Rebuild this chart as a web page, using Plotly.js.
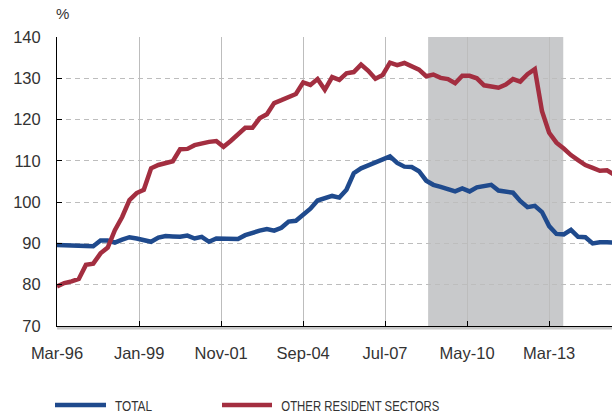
<!DOCTYPE html>
<html>
<head>
<meta charset="utf-8">
<script src="https://cdn.plot.ly/plotly-3.0.1.min.js"></script>
<style>html,body{margin:0;padding:0;background:#fff;}#chart{width:612px;height:416px;}</style>
</head>
<body>
<div id="chart"></div>
<script>
// Quarterly observations, Mar-1996 .. Jun-2015
const quarters = [
"1996-03","1996-06","1996-09","1996-12","1997-03","1997-06","1997-09","1997-12",
"1998-03","1998-06","1998-09","1998-12","1999-03","1999-06","1999-09","1999-12",
"2000-03","2000-06","2000-09","2000-12","2001-03","2001-06","2001-09","2001-12",
"2002-03","2002-06","2002-09","2002-12","2003-03","2003-06","2003-09","2003-12",
"2004-03","2004-06","2004-09","2004-12","2005-03","2005-06","2005-09","2005-12",
"2006-03","2006-06","2006-09","2006-12","2007-03","2007-06","2007-09","2007-12",
"2008-03","2008-06","2008-09","2008-12","2009-03","2009-06","2009-09","2009-12",
"2010-03","2010-06","2010-09","2010-12","2011-03","2011-06","2011-09","2011-12",
"2012-03","2012-06","2012-09","2012-12","2013-03","2013-06","2013-09","2013-12",
"2014-03","2014-06","2014-09","2014-12","2015-03","2015-06"];

const total = [
89.6,89.6,89.5,89.4,89.4,89.3,90.7,90.7,90.2,90.9,
91.5,91.2,90.7,90.4,91.4,91.8,91.7,91.6,91.9,91.2,
91.6,90.4,91.2,91.1,91.0,91.1,92.0,92.7,93.1,93.5,
93.1,93.8,95.3,95.5,97.1,98.4,100.4,101.0,101.5,101.1,
103.0,107.0,108.2,108.9,109.6,110.2,111.1,109.5,108.6,108.5,
107.5,105.2,104.2,103.7,103.2,102.6,103.3,102.6,103.6,103.9,
104.2,102.8,102.6,102.3,100.3,98.8,99.1,97.6,94.2,92.3,
92.2,93.3,91.6,91.5,90.0,90.3,90.3,90.2];

const otherResident = [
79.6,80.4,80.8,81.4,84.8,85.1,87.6,89.0,93.2,96.4,
100.5,102.2,103.0,108.2,109.0,109.4,109.9,112.8,112.9,113.8,
114.3,114.6,114.8,113.4,114.8,116.3,118.0,118.0,120.3,121.3,
124.0,124.7,125.5,126.2,129.0,128.4,129.8,127.2,130.3,129.6,
131.2,131.5,133.3,131.8,129.9,130.8,133.8,133.2,133.7,132.8,
132.1,130.5,130.9,130.1,129.8,128.8,130.6,130.6,130.0,128.3,
128.0,127.7,128.5,129.8,129.2,131.0,132.2,122.0,116.8,114.4,
113.0,111.4,110.2,109.0,108.3,107.6,107.7,106.6];

const seriesNames = ["TOTAL", "OTHER RESIDENT SECTORS"];
const tickDates = ["1996-03-01","1999-01-01","2001-11-01","2004-09-01","2007-07-01","2010-05-01","2013-03-01"];
const tickLabels = ["Mar-96","Jan-99","Nov-01","Sep-04","Jul-07","May-10","Mar-13"];
const shadeStart = "2008-12-25";
const shadeEnd = "2013-08-26";

const BLUE = "#1f4a8d";
const RED = "#a32e40";

const traces = [
  {x: quarters, y: total, type: "scatter", mode: "lines", name: seriesNames[0],
   line: {color: BLUE, width: 4.5}},
  {x: quarters, y: otherResident, type: "scatter", mode: "lines", name: seriesNames[1],
   line: {color: RED, width: 4.5}}
];

const legendFont = {family: "'Liberation Sans Narrow', 'Arial Narrow', 'Liberation Sans', sans-serif", size: 15, color: "#333"};
const ly = -0.2734;

const layout = {
  width: 612, height: 416,
  margin: {l: 57, r: 0, t: 37, b: 90, pad: 0},
  paper_bgcolor: "#ffffff", plot_bgcolor: "#ffffff",
  showlegend: false,
  font: {family: "'Liberation Sans', Arial, sans-serif", color: "#333"},
  xaxis: {
    type: "date", range: ["1996-03-01", "2015-05-03"],
    tickmode: "array", tickvals: tickDates, ticktext: tickLabels,
    ticks: "inside", ticklen: 5, tickcolor: "#000", tickwidth: 1,
    showline: true, linecolor: "#000", linewidth: 1,
    showgrid: true, gridcolor: "#bdbdbd", gridwidth: 1,
    zeroline: false,
    tickfont: {size: 16.5, color: "#333"},
    ticklabelstandoff: 12
  },
  yaxis: {
    range: [70, 140], dtick: 10, tick0: 70,
    ticks: "inside", ticklen: 5, tickcolor: "#000", tickwidth: 1,
    showline: true, linecolor: "#000", linewidth: 1,
    showgrid: true, gridcolor: "#bdbdbd", gridwidth: 1, griddash: "5px,4px",
    zeroline: false,
    tickfont: {size: 16.5, color: "#333"},
    ticklabelstandoff: 12
  },
  shapes: [
    {type: "rect", xref: "x", yref: "paper", x0: shadeStart, x1: shadeEnd, y0: 0, y1: 1,
     fillcolor: "#c8c9cb", line: {width: 0}, layer: "below"},
    {type: "line", xref: "paper", yref: "paper", x0: 0, x1: 1, y0: -0.0075, y1: -0.0075,
     line: {color: "#c8c8c8", width: 2.5}},
    {type: "line", xref: "paper", yref: "paper", x0: -0.0036, x1: 0.0883, y0: ly, y1: ly,
     line: {color: BLUE, width: 4.5}},
    {type: "line", xref: "paper", yref: "paper", x0: 0.2973, x1: 0.3874, y0: ly, y1: ly,
     line: {color: RED, width: 4.5}}
  ],
  annotations: [
    {text: "%", xref: "paper", yref: "paper", x: -0.006, y: 1.08, xanchor: "left", yanchor: "middle",
     showarrow: false, font: {size: 15, color: "#333"}},
    {text: seriesNames[0], xref: "paper", yref: "paper", x: 0.137, y: ly, xanchor: "center", yanchor: "middle",
     showarrow: false, font: legendFont},
    {text: seriesNames[1], xref: "paper", yref: "paper", x: 0.546, y: ly, xanchor: "center", yanchor: "middle",
     showarrow: false, font: legendFont}
  ]
};

Plotly.newPlot("chart", traces, layout, {displayModeBar: false, staticPlot: true}).then(function (gd) {
  // condense legend labels to the narrow width used in the original
  const widths = {"TOTAL": 37, "OTHER RESIDENT SECTORS": 158};
  gd.querySelectorAll(".annotation-text").forEach(function (t) {
    const w = widths[t.textContent];
    if (w) {
      t.setAttribute("textLength", w);
      t.setAttribute("lengthAdjust", "spacingAndGlyphs");
    }
  });
});
</script>
</body>
</html>
